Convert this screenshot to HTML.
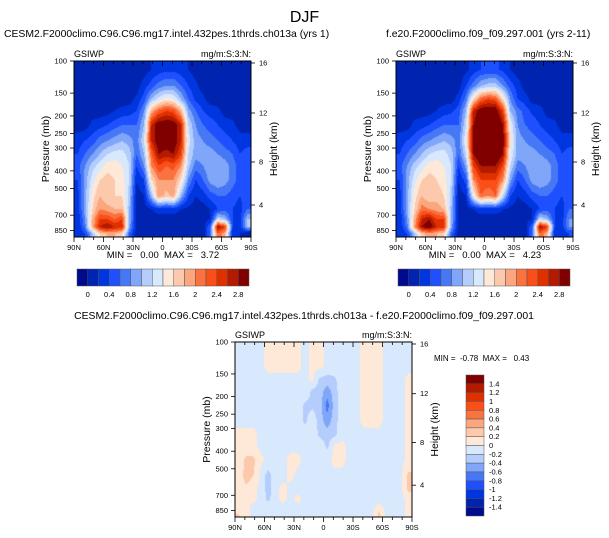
<!DOCTYPE html>
<html><head><meta charset="utf-8"><style>
html,body{margin:0;padding:0;background:#fff;}
#wrap{position:relative;width:609px;height:538px;overflow:hidden;}
canvas{position:absolute;}
svg{position:absolute;left:0;top:0;display:block;font-family:"Liberation Sans",Arial,sans-serif;}
text{white-space:pre;}
</style></head><body>
<div id="wrap">
<canvas id="cv1" width="177" height="176" style="left:74px;top:61px"></canvas>
<canvas id="cv2" width="177" height="176" style="left:396px;top:61px"></canvas>
<canvas id="cv3" width="177" height="175" style="left:235px;top:342px"></canvas>
<svg id="fig" width="609" height="538" viewBox="0 0 609 538">
<text x="304.5" y="22" font-size="16" text-anchor="middle">DJF</text>
</svg>
</div>
<script>
const lats=[86.25,78.75,71.25,63.75,56.25,48.75,41.25,33.75,26.25,18.75,11.25,3.75,-3.75,-11.25,-18.75,-26.25,-33.75,-41.25,-48.75,-56.25,-63.75,-71.25,-78.75,-86.25];
const pEdges=[100,125,150,175,200,250,300,350,400,500,600,700,775,850,922];
const pTicks=[100,150,200,250,300,400,500,700,850];
const hTicks=[4,8,12,16];
const hTickY=[205,162,113,63];
const xTicks=["90N","60N","30N","0","30S","60S","90S"];
const absLevels=[0,0.2,0.4,0.6,0.8,1,1.2,1.4,1.6,1.8,2,2.2,2.4,2.6,2.8];
const absLabels=["0","0.4","0.8","1.2","1.6","2","2.4","2.8"];
const difLevels=[-1.4,-1.2,-1,-0.8,-0.6,-0.4,-0.2,0,0.2,0.4,0.6,0.8,1,1.2,1.4];
const difLabels=["-1.4","-1.2","-1","-0.8","-0.6","-0.4","-0.2","0","0.2","0.4","0.6","0.8","1","1.2","1.4"];
const palette=["#000a8c","#0023b0","#0036e0","#1e50ff","#4678f5","#80a6fa","#b4cdfc","#d8e8fd","#fee8d8","#fcc9ad","#fca67f","#f97240","#fb4f1a","#e03000","#b31a00","#800000"];
const model1=[
[.1,.1,.1,.1,.1,.1,.1,.1,.1,.1,.2,.3,.35,.35,.3,.2,.1,.1,.1,.1,.1,.1,.1,.1],
[.1,.1,.1,.1,.1,.1,.1,.1,.1,.3,.5,.7,.8,.8,.6,.4,.25,.1,.1,.1,.1,.1,.1,.1],
[.1,.1,.1,.1,.1,.1,.1,.1,.25,.5,1.0,1.3,1.5,1.4,1.0,.6,.35,.25,.1,.1,.1,.1,.1,.1],
[.1,.1,.1,.1,.1,.2,.25,.3,.4,.8,1.8,2.2,2.4,2.3,1.8,.9,.6,.4,.3,.25,.1,.1,.1,.1],
[.1,.1,.25,.3,.4,.5,.6,.6,.6,1.0,2.6,3.0,3.0,3.0,2.6,1.2,.8,.6,.5,.4,.3,.25,.1,.1],
[.3,.4,.5,.7,.8,.9,1.0,.9,.7,1.2,2.6,3.0,3.0,3.0,2.6,1.3,.9,.8,.7,.6,.5,.4,.3,.3],
[.4,.6,.8,1.0,1.2,1.3,1.3,1.1,.6,1.0,2.2,2.8,2.7,2.8,2.4,1.2,.9,.9,.9,.8,.7,.6,.4,.5],
[.5,.8,1.1,1.3,1.5,1.5,1.4,1.2,.4,.8,2.0,2.4,2.2,2.3,2.0,1.1,.7,.8,1.0,1.0,.9,.7,.5,.4],
[.4,.9,1.3,1.6,1.7,1.6,1.5,1.2,.2,.4,1.6,2.0,2.0,2.0,1.6,.8,.4,.6,.9,1.0,.9,.7,.5,.4],
[.3,.9,1.5,1.8,1.6,1.6,1.6,1.1,.1,.2,1.0,2.0,1.7,1.9,1.0,.4,.2,.3,.5,.6,.6,.5,.4,.5],
[.3,.9,1.6,2.0,1.9,1.8,1.8,1.0,.1,.1,.2,.3,.3,.3,.2,.15,.1,.1,.2,.4,.5,.4,.3,.6],
[.2,.8,1.8,2.4,2.4,2.2,2.4,1.0,.1,.1,.1,.1,.1,.1,.1,.1,.1,.1,.2,1.2,1.0,.4,.3,1.0],
[.2,.7,1.8,2.6,2.8,2.6,2.6,.9,.1,.1,.1,.1,.1,.1,.1,.1,.1,.1,.6,2.8,2.4,.4,.3,1.0],
[.2,.4,1.0,1.6,1.8,1.8,1.6,.6,.1,.1,.1,.1,.1,.1,.1,.1,.1,.1,.6,2.2,1.8,.3,.2,0]];
const model2=[
[.1,.1,.1,.1,.1,.1,.1,.1,.1,.15,.3,.4,.45,.45,.35,.2,.1,.1,.1,.1,.1,.1,.1,.1],
[.1,.1,.1,.1,.1,.1,.1,.1,.1,.4,.7,1.0,1.1,1.1,.8,.5,.3,.1,.1,.1,.1,.1,.1,.1],
[.1,.1,.1,.1,.1,.1,.1,.1,.3,.7,1.6,2.2,2.4,2.3,1.6,.8,.4,.3,.1,.1,.1,.1,.1,.1],
[.1,.1,.1,.1,.1,.2,.3,.35,.5,1.0,2.6,3.0,3.0,3.0,2.4,1.0,.7,.5,.35,.3,.1,.1,.1,.1],
[.1,.1,.25,.3,.4,.5,.6,.6,.6,1.2,2.8,3.2,3.2,3.2,2.8,1.4,.8,.6,.5,.4,.3,.25,.1,.1],
[.3,.4,.5,.7,.8,.9,1.0,.9,.7,1.4,3.0,3.2,3.2,3.2,3.0,1.5,.9,.8,.7,.6,.5,.4,.3,.3],
[.4,.6,.8,1.0,1.2,1.3,1.3,1.1,.6,1.2,2.8,3.2,3.2,3.2,2.8,1.4,.9,.9,.9,.8,.7,.6,.4,.5],
[.5,.8,1.1,1.3,1.5,1.5,1.4,1.2,.4,.9,2.4,2.8,2.8,2.8,2.4,1.2,.7,.8,1.0,1.0,.9,.7,.5,.4],
[.4,.9,1.3,1.6,1.7,1.6,1.5,1.2,.2,.5,2.0,2.4,2.4,2.4,2.0,.9,.4,.6,.9,1.0,.9,.7,.5,.4],
[.3,.9,1.5,1.8,1.6,1.7,1.6,1.1,.1,.2,1.4,2.2,2.0,2.2,1.2,.4,.2,.3,.5,.6,.6,.5,.4,.5],
[.3,.9,1.6,2.1,2.0,1.9,1.8,1.0,.1,.1,.2,.3,.3,.3,.2,.15,.1,.1,.2,.4,.5,.4,.3,.6],
[.2,.8,1.8,2.6,2.8,2.4,2.4,1.0,.1,.1,.1,.1,.1,.1,.1,.1,.1,.1,.2,1.2,1.0,.4,.3,.8],
[.2,.7,1.9,2.8,3.0,2.6,2.5,.9,.1,.1,.1,.1,.1,.1,.1,.1,.1,.1,.6,2.8,2.4,.4,.3,.8],
[.2,.4,1.0,1.7,1.9,1.8,1.6,.6,.1,.1,.1,.1,.1,.1,.1,.1,.1,.1,.6,2.2,1.8,.3,.2,.4]];
const diffVals=[
[-.05,-.05,-.05,-.05,.05,.05,.05,.05,.05,-.05,.05,.05,-.05,-.05,-.05,-.05,-.05,.05,.05,.05,-.05,-.05,-.05,-.05],
[-.05,-.05,-.05,-.05,.05,.05,.05,.05,.05,-.05,.05,.05,-.05,-.05,-.05,-.05,-.05,.05,.05,.05,-.05,-.05,-.05,-.05],
[-.05,-.05,-.05,-.05,-.05,-.05,-.05,-.05,-.05,-.05,.05,-.25,-.3,-.25,-.05,-.05,-.05,.05,.05,.05,-.05,-.05,-.05,.05],
[-.05,-.05,-.05,-.05,-.05,-.05,-.05,-.05,-.05,-.05,-.25,-.3,-.5,-.3,-.05,-.05,-.05,.05,.05,.05,-.05,-.05,-.05,.05],
[-.05,-.05,-.05,-.05,-.05,-.05,-.05,-.05,-.05,-.25,-.25,-.3,-.7,-.3,-.05,-.05,-.05,.05,.05,.05,-.05,-.05,-.05,.05],
[-.05,-.05,-.05,-.05,-.05,-.05,-.05,-.05,-.05,-.25,-.05,-.3,-.5,-.3,-.05,-.05,-.05,.05,.05,.05,-.05,-.05,-.05,.05],
[.05,.05,.05,-.05,-.05,-.05,-.05,-.05,-.05,-.05,-.05,-.25,-.3,-.25,-.05,-.05,-.05,-.05,-.05,-.05,-.05,-.05,-.05,.05],
[.05,.05,.05,-.05,-.05,-.05,-.05,-.05,-.05,-.05,-.05,-.05,-.25,.05,.05,-.05,-.05,-.05,-.05,-.05,-.05,-.05,-.05,.05],
[.05,.25,.25,.05,-.05,-.05,-.05,.05,.05,-.05,-.05,-.05,-.05,.05,.05,-.05,-.05,-.05,-.05,-.05,-.05,-.05,-.05,.05],
[.05,.3,.2,-.05,-.3,-.05,-.05,.05,-.05,-.05,-.05,-.05,-.05,-.05,-.05,-.05,-.05,-.05,-.05,-.05,-.05,-.05,-.05,.25],
[.05,.15,.05,-.05,-.3,-.05,.05,-.05,-.05,-.05,-.05,-.05,-.05,-.05,-.05,-.05,-.05,-.05,-.05,-.05,-.05,-.05,-.05,.25],
[.05,.05,.05,-.05,-.25,-.05,.05,-.05,.05,-.05,-.05,-.05,-.05,-.05,-.05,-.05,-.05,-.05,-.05,-.05,-.05,-.05,-.05,.05],
[.05,.05,-.05,-.05,-.05,-.05,-.05,-.05,-.05,-.05,-.05,-.05,-.05,-.05,-.05,-.05,-.05,-.05,-.05,.05,-.05,-.05,-.05,.05],
[.2,.05,-.05,-.05,-.05,-.05,-.05,-.05,-.05,-.05,-.05,-.05,-.05,-.05,-.05,-.05,-.05,-.05,-.05,.25,-.05,-.05,-.05,.05]];

const NS="http://www.w3.org/2000/svg";
const fig=document.getElementById('fig');
function mk(tag,attrs,parent){const e=document.createElementNS(NS,tag);for(const k in attrs)e.setAttribute(k,attrs[k]);(parent||fig).appendChild(e);return e;}
function binIndex(v,levels){let b=0;for(const l of levels){if(v>=l-1e-9)b++;}return b;}
const rgb=palette.map(h=>[parseInt(h.slice(1,3),16),parseInt(h.slice(3,5),16),parseInt(h.slice(5,7),16)]);
const rowCenters=pEdges.slice(0,-1).map((p,i)=>Math.log(Math.sqrt(p*pEdges[i+1])));

function sample(data,lat,lp){
  // fractional column
  let fc=(lats[0]-lat)/(lats[0]-lats[1]);
  fc=Math.max(0,Math.min(lats.length-1,fc));
  let r=0;
  if(lp<=rowCenters[0]) r=0;
  else if(lp>=rowCenters[rowCenters.length-1]) r=rowCenters.length-1;
  else{ for(let i=0;i<rowCenters.length-1;i++){ if(lp>=rowCenters[i]&&lp<=rowCenters[i+1]){ r=i+(lp-rowCenters[i])/(rowCenters[i+1]-rowCenters[i]); break; } } }
  const c0=Math.floor(fc),c1=Math.min(c0+1,lats.length-1),tc=fc-c0;
  const r0=Math.floor(r),r1=Math.min(r0+1,rowCenters.length-1),tr=r-r0;
  const a=data[r0][c0]*(1-tc)+data[r0][c1]*tc;
  const b=data[r1][c0]*(1-tc)+data[r1][c1]*tc;
  return a*(1-tr)+b*tr;
}

function panel(o){
  const W=177,H=o.h;
  const k=H/Math.log(922/100);
  const yOf=p=>o.y+k*Math.log(p/100);
  const cv=document.getElementById(o.canvas);
  const ctx=cv.getContext('2d');
  const img=ctx.createImageData(W,H);
  for(let py=0;py<H;py++){
    const lp=Math.log(100)+(py+0.5)/k;
    for(let px=0;px<W;px++){
      const lat=90-(px+0.5)/W*180;
      const v=sample(o.data,lat,lp);
      const c=rgb[binIndex(v,o.levels)];
      const i=(py*W+px)*4;
      img.data[i]=c[0];img.data[i+1]=c[1];img.data[i+2]=c[2];img.data[i+3]=255;
    }
  }
  ctx.putImageData(img,0,0);
  const frame=mk('rect',{x:o.x,y:o.y,width:W,height:H,fill:'none',stroke:'#000','stroke-width':1});
  
  
  for(let i=0;i<=18;i++){const x=o.x+i*W/18;const len=(i%3===0)?5:3;mk('line',{x1:x,y1:o.y,x2:x,y2:o.y+len,stroke:'#000','stroke-width':0.8});mk('line',{x1:x,y1:o.y+H,x2:x,y2:o.y+H+len,stroke:'#000','stroke-width':0.8});}
  xTicks.forEach((t,i)=>{const tx=mk('text',{x:o.x+i*W/6,y:o.y+H+13,'font-size':7.5,'text-anchor':'middle'});tx.textContent=t;
    });
  pTicks.forEach(p=>{const y=yOf(p);mk('line',{x1:o.x-4,y1:y,x2:o.x,y2:y,stroke:'#000','stroke-width':0.8});
    const tx=mk('text',{x:o.x-7,y:y+2.5,'font-size':7.5,'text-anchor':'end'});tx.textContent=p;
    });
  hTicks.forEach((h,i)=>{const y=o.y+(hTickY[i]-61)*H/176;mk('line',{x1:o.x+W,y1:y,x2:o.x+W+4,y2:y,stroke:'#000','stroke-width':0.8});
    const tx=mk('text',{x:o.x+W+8,y:y+2.5,'font-size':7.5});tx.textContent=h;
    });
  const yl=mk('text',{x:0,y:0,'font-size':10.5,'text-anchor':'middle',transform:`translate(${o.x-25},${o.y+H/2}) rotate(-90)`});yl.textContent='Pressure (mb)';
  
  const yr=mk('text',{x:0,y:0,'font-size':10.5,'text-anchor':'middle',transform:`translate(${o.x+W+26},${o.y+H/2}) rotate(-90)`});yr.textContent='Height (km)';
  
  const v1=mk('text',{x:o.x,y:o.y-4,'font-size':9});v1.textContent='GSIWP';
  
  const u=mk('text',{x:o.x+W,y:o.y-4,'font-size':9,'text-anchor':'end'});u.textContent='mg/m:S:3:N:';
  
}
function hbar(x,y,levels,labels){
  const w=172/16;
  palette.forEach((c,i)=>{const r=mk('rect',{x:x+i*w,y:y,width:w,height:17,fill:c,stroke:'#555','stroke-width':0.5});
    });
  labels.forEach((t,i)=>{const tx=mk('text',{x:x+(1+2*i)*w,y:y+28,'font-size':7.5,'text-anchor':'middle'});tx.textContent=t;
    });
}
function txt(s,x,y,size,anchor,name){const t=mk('text',{x:x,y:y,'font-size':size,'text-anchor':anchor||'start'});t.textContent=s;
  return t;}

txt('CESM2.F2000climo.C96.C96.mg17.intel.432pes.1thrds.ch013a (yrs 1)',4,37,10.4,'start','panel1-title');
txt('f.e20.F2000climo.f09_f09.297.001 (yrs 2-11)',386,37,10.4,'start','panel2-title');
txt('CESM2.F2000climo.C96.C96.mg17.intel.432pes.1thrds.ch013a - f.e20.F2000climo.f09_f09.297.001',304,319,10.4,'middle','panel3-title');

panel({x:74,y:61,h:176,data:model1,levels:absLevels,canvas:'cv1',name:'panel1'});
panel({x:396,y:61,h:176,data:model2,levels:absLevels,canvas:'cv2',name:'panel2'});
panel({x:235,y:342,h:175,data:diffVals,levels:difLevels,canvas:'cv3',name:'panel3'});

txt('MIN =   0.00  MAX =   3.72',163,258,9.5,'middle','panel1-minmax');
txt('MIN =   0.00  MAX =   4.23',485,258,9.5,'middle','panel2-minmax');
txt('MIN =  -0.78  MAX =   0.43',434,361,8,'start','panel3-minmax');

hbar(77,269,absLevels,absLabels);
hbar(398,269,absLevels,absLabels);

const bh=141/16;
palette.slice().reverse().forEach((c,i)=>{const r=mk('rect',{x:466,y:375+i*bh,width:18,height:bh,fill:c,stroke:'#555','stroke-width':0.5});
  });
difLabels.slice().reverse().forEach((t,i)=>{const tx=mk('text',{x:489,y:375+(i+1)*bh+2.5,'font-size':7.5});tx.textContent=t;
  });
</script>
</body></html>
